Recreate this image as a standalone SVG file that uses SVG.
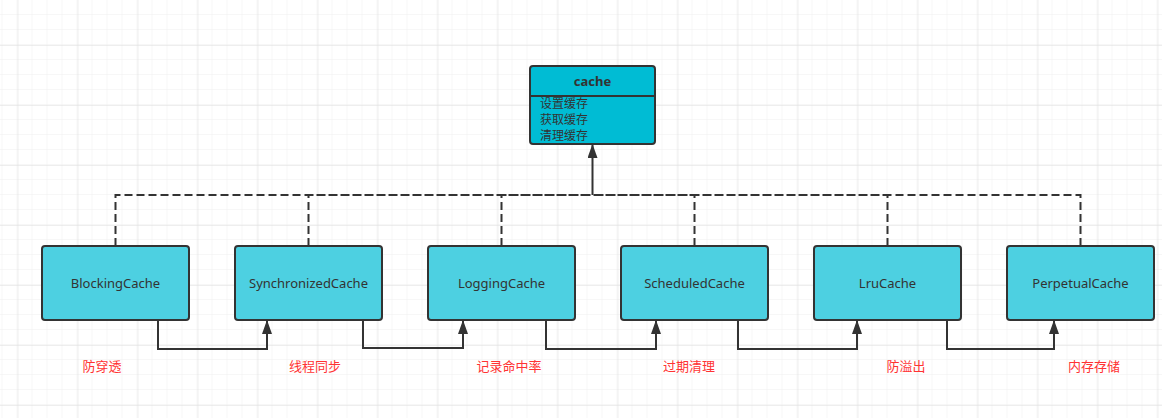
<svg xmlns="http://www.w3.org/2000/svg" width="1162" height="418" viewBox="0 0 1162 418">
<defs>
<pattern id="minor" x="2.5" y="0" width="15" height="15" patternUnits="userSpaceOnUse">
<path d="M15 0 V15 M0 15 H15" fill="none" stroke="#eeeeee" stroke-width="1"/>
</pattern>
<pattern id="major" x="17.5" y="45" width="60" height="60" patternUnits="userSpaceOnUse">
<path d="M0 0 V60 M0 0 H60" fill="none" stroke="#dedede" stroke-width="1"/>
</pattern>
<marker id="arr" viewBox="0 0 14 10" refX="13" refY="5" markerWidth="14" markerHeight="10" markerUnits="userSpaceOnUse" orient="auto">
<path d="M0 0 L14 5 L0 10 Z" fill="#333"/>
</marker>
<style>
.node rect{fill:#4DD0E1;stroke:#333;stroke-width:2}
.top rect,.top path{stroke:#333;stroke-width:2}
.lbl{font-family:"Noto Sans","Noto Sans CJK SC",sans-serif;font-size:13px;fill:#333;text-anchor:middle}
.item{font-family:"Noto Sans CJK SC","Noto Sans",sans-serif;font-size:12px;fill:#333}
.note{font-family:"Noto Sans CJK SC","Noto Sans",sans-serif;font-size:13px;fill:#FF3333;text-anchor:middle}
.dash{fill:none;stroke:#333;stroke-width:2;stroke-dasharray:8 4}
.solid{fill:none;stroke:#333;stroke-width:2}
</style>
</defs>
<rect width="1162" height="418" fill="#fff"/>
<rect width="1162" height="418" fill="url(#minor)"/>
<rect width="1162" height="418" fill="url(#major)"/>

<g id="connectors">
<path class="dash" d="M115.5 246 V195 H592.5"/>
<path class="dash" d="M308.5 246 V195 H592.5"/>
<path class="dash" d="M501.5 246 V195 H592.5"/>
<path class="dash" d="M694.5 246 V195 H592.5"/>
<path class="dash" d="M887.5 246 V195 H592.5"/>
<path class="dash" d="M1080.5 246 V195 H592.5"/>
<path class="solid" d="M592.5 195 V145" marker-end="url(#arr)"/>
<path class="solid" d="M158 320 V349 H267 V321" marker-end="url(#arr)"/>
<path class="solid" d="M363 320 V348 H463 V321" marker-end="url(#arr)"/>
<path class="solid" d="M546 320 V349 H656 V321" marker-end="url(#arr)"/>
<path class="solid" d="M738 320 V349 H857 V321" marker-end="url(#arr)"/>
<path class="solid" d="M947 320 V349 H1054 V321" marker-end="url(#arr)"/>
</g>

<g id="cache" class="top">
<rect x="530" y="66" width="125" height="78" rx="3" fill="#00BCD4"/>
<path d="M530 96 H655"/>
<text x="592.5" y="86" class="lbl" font-weight="bold">cache</text>
<text x="540" y="108" class="item">设置缓存</text>
<text x="540" y="124" class="item">获取缓存</text>
<text x="540" y="140" class="item">清理缓存</text>
</g>

<g id="BlockingCache" class="node"><rect x="42" y="246" width="147" height="74" rx="3"/><text x="115.5" y="288" class="lbl">BlockingCache</text></g>
<g id="SynchronizedCache" class="node"><rect x="235" y="246" width="147" height="74" rx="3"/><text x="308.5" y="288" class="lbl">SynchronizedCache</text></g>
<g id="LoggingCache" class="node"><rect x="428" y="246" width="147" height="74" rx="3"/><text x="501.5" y="288" class="lbl">LoggingCache</text></g>
<g id="ScheduledCache" class="node"><rect x="621" y="246" width="147" height="74" rx="3"/><text x="694.5" y="288" class="lbl">ScheduledCache</text></g>
<g id="LruCache" class="node"><rect x="814" y="246" width="147" height="74" rx="3"/><text x="887.5" y="288" class="lbl">LruCache</text></g>
<g id="PerpetualCache" class="node"><rect x="1007" y="246" width="147" height="74" rx="3"/><text x="1080.5" y="288" class="lbl">PerpetualCache</text></g>

<g id="notes">
<text x="102" y="371" class="note">防穿透</text>
<text x="315" y="371" class="note">线程同步</text>
<text x="509" y="371" class="note">记录命中率</text>
<text x="689" y="371" class="note">过期清理</text>
<text x="906" y="371" class="note">防溢出</text>
<text x="1094" y="371" class="note">内存存储</text>
</g>
</svg>
